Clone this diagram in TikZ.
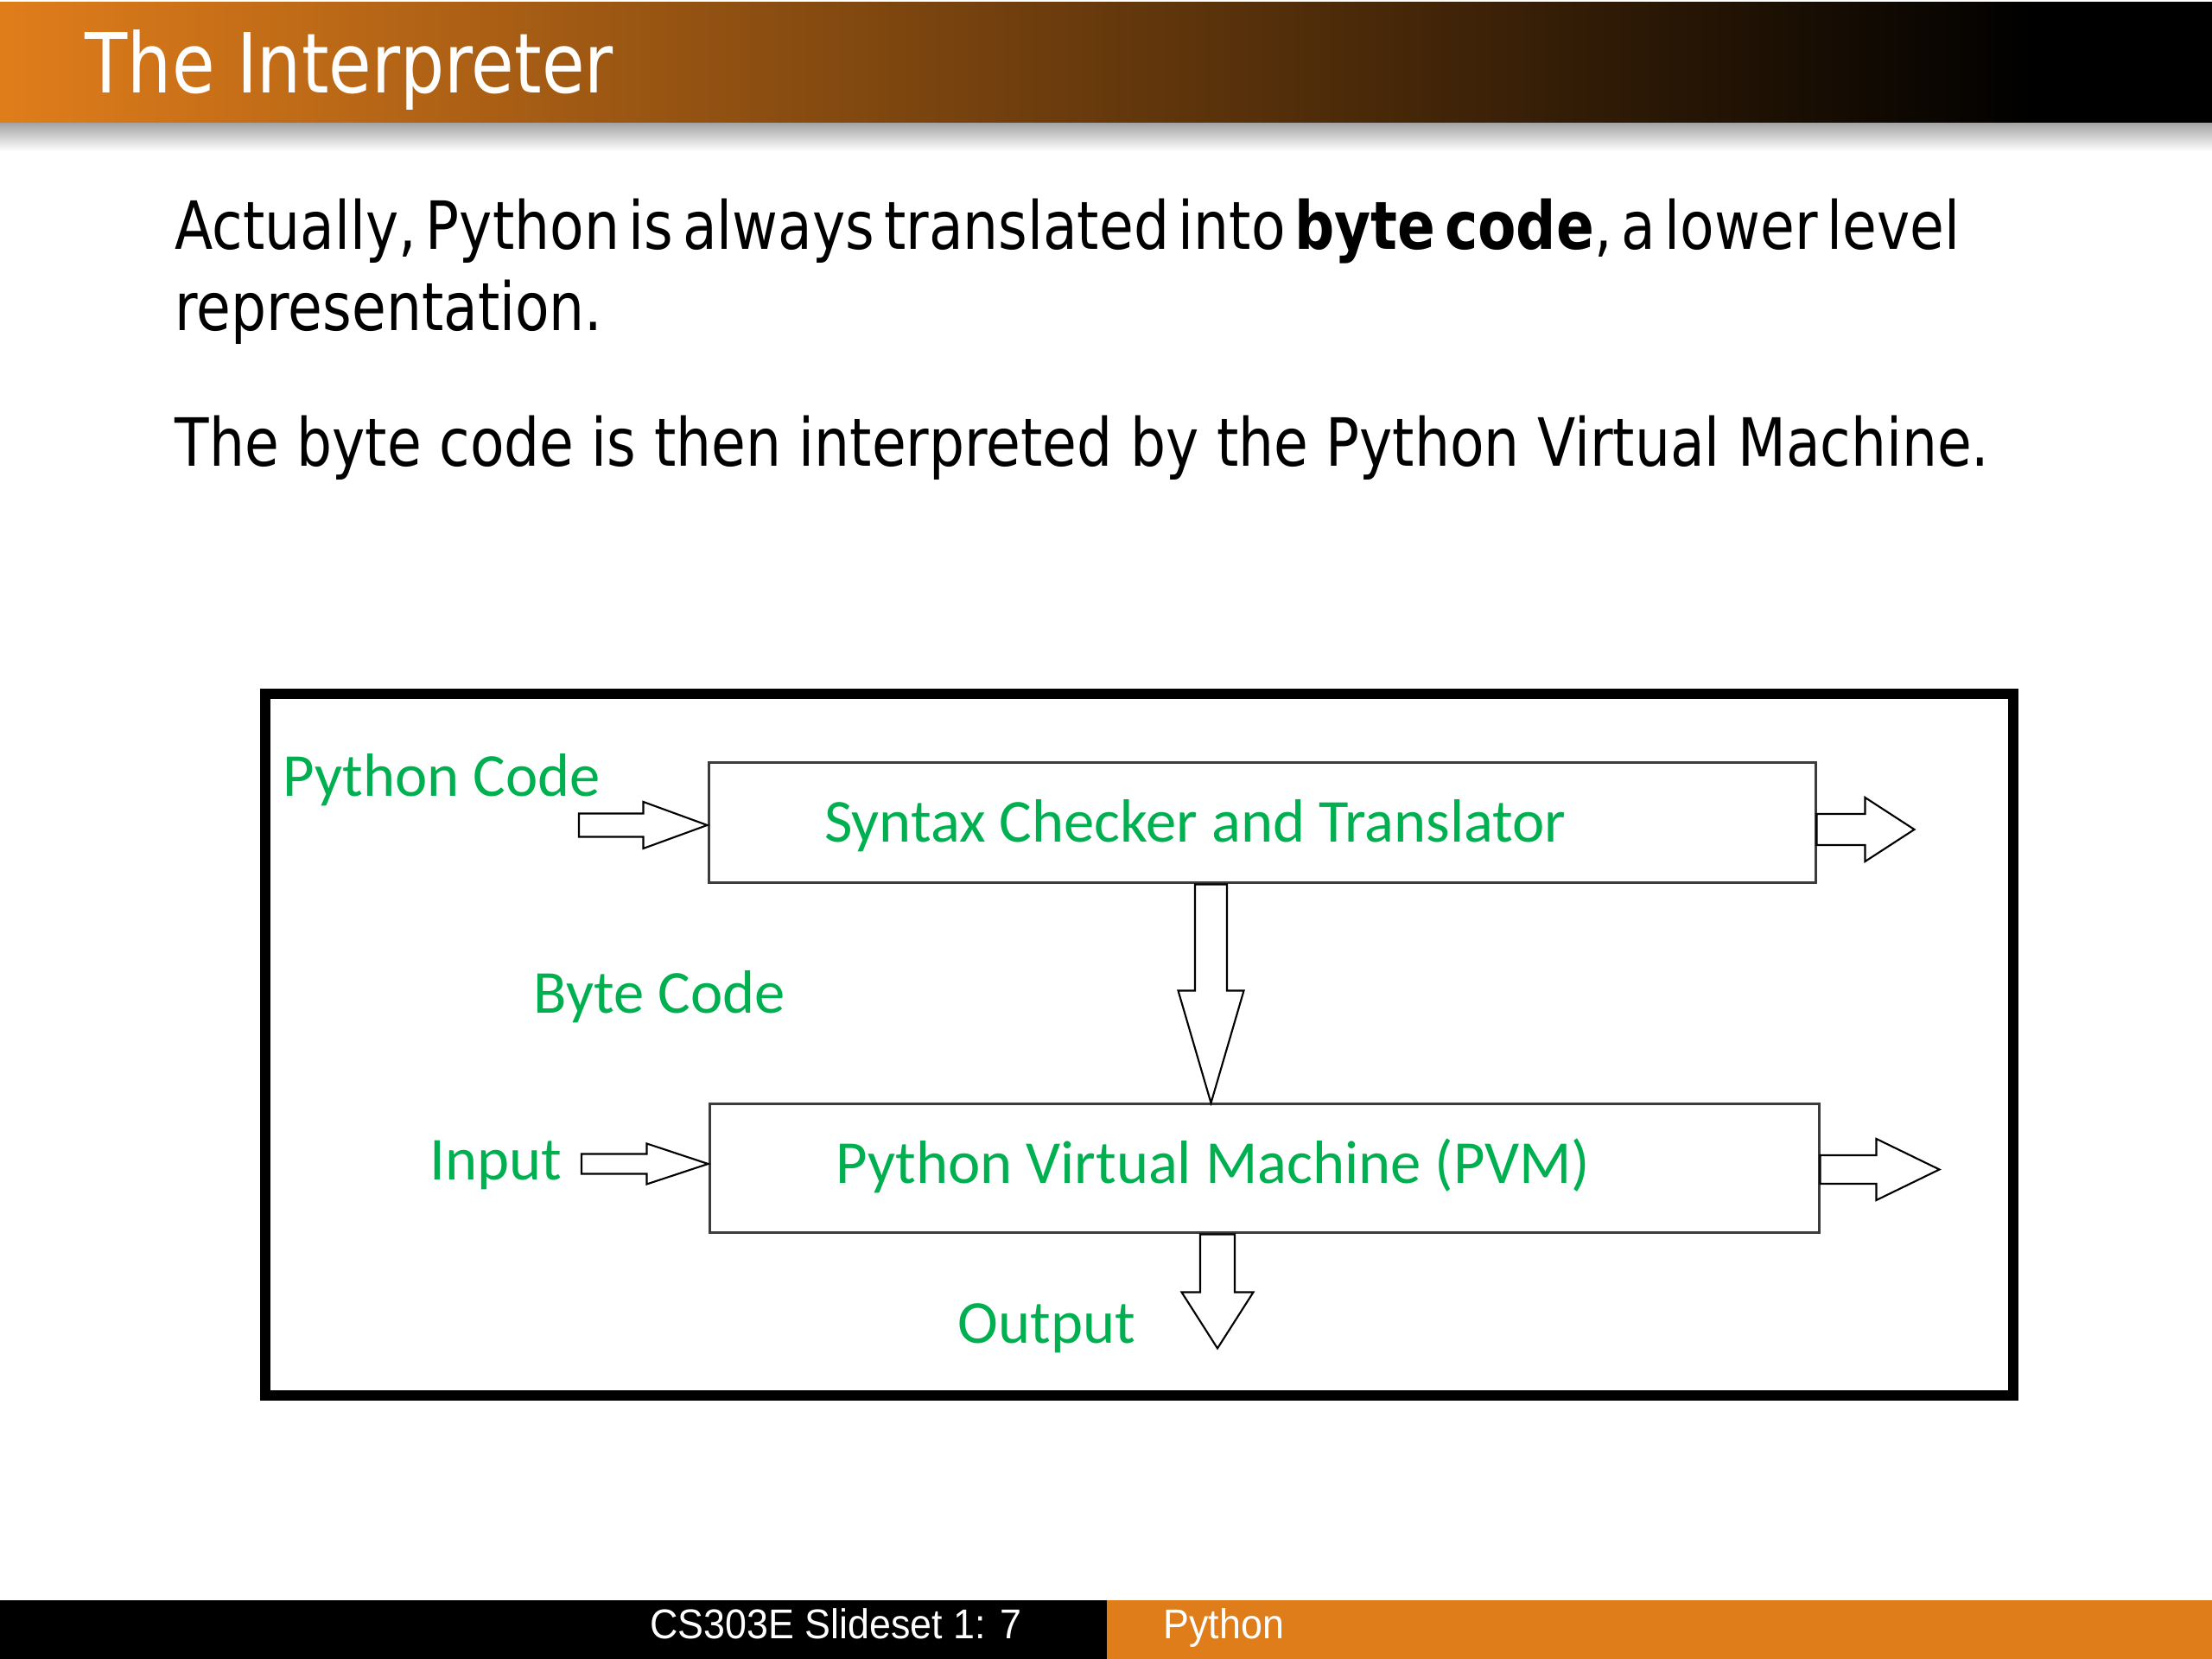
\documentclass[tikz,border=0pt]{standalone}
\usepackage{fontspec}
\usepackage{xcolor}
\usepackage{tikz}
\usetikzlibrary{positioning,calc}
\newfontfamily\slidefont[FakeStretch=0.84]{DejaVu Sans}
\newfontfamily\diagfont{Carlito}
\newfontfamily\footfont[FakeStretch=0.93]{Liberation Sans}
\definecolor{slideorange}{RGB}{224,125,27}
\definecolor{labelgreen}{RGB}{0,176,80}
\definecolor{boxgray}{RGB}{60,60,60}
\pgfdeclarehorizontalshading{titlebar}{100bp}{color(0bp)=(slideorange); color(25bp)=(slideorange); color(71bp)=(black); color(100bp)=(black)}
\newcommand{\fatarrow}[5]{\draw[fat] ($(#1)!#3!90:(#2)$) -- ($($(#2)!#5!(#1)$)!#3!90:(#2)$) -- ($($(#2)!#5!(#1)$)!#4!90:(#2)$) -- (#2) -- ($($(#2)!#5!(#1)$)!#4!-90:(#2)$) -- ($($(#2)!#5!(#1)$)!#3!-90:(#2)$) -- ($(#1)!#3!-90:(#2)$) -- cycle;}

\begin{document}
\begin{tikzpicture}[
	titletext/.style={text=white, inner sep=0pt, font=\slidefont\fontsize{27.3pt}{30pt}\selectfont},
	bodytext/.style={text=black, inner sep=0pt, font=\slidefont\fontsize{21.9pt}{26pt}\selectfont},
	foottext/.style={text=white, inner sep=0pt, font=\footfont\fontsize{13.7pt}{15pt}\selectfont},
	greenlabel/.style={text=labelgreen, inner sep=0pt, font=\diagfont\fontsize{20.1pt}{22pt}\selectfont},
	block/.style={draw=boxgray, line width=0.85pt, fill=white, inner sep=0pt},
	fat/.style={draw=black, line width=0.6pt, fill=white, line join=miter},
	frame/.style={draw=black, line width=0.12cm}]
	\useasboundingbox (0,0) rectangle (25.6,19.2);
	\fill[white] (0,0) rectangle (25.6,19.2);
	\shade[shading=titlebar] (0,17.77) rectangle (25.6,19.17);
	\shade[top color=black!35, bottom color=white] (0,17.45) rectangle (25.6,17.77);
	\fill[black] (0,0) rectangle (12.81,0.68);
	\fill[slideorange] (12.81,0) rectangle (25.6,0.68);
	\node[titletext, anchor=base west] (title) at (0.98,18.12) {The Interpreter};
	\node[bodytext, anchor=base west] (line1) at (2.02,16.31) {\spaceskip=0.14em Actually, Python is always translated into \textbf{byte code}, a lower level};
	\node[bodytext, anchor=base west] (line2) at ([yshift=-0.94cm]line1.base west) {representation.};
	\node[bodytext, anchor=base west] (line3) at (2.02,13.80) {The byte code is then interpreted by the Python Virtual Machine.};
	\node[foottext, anchor=base east] (slideno) at (11.83,0.23) {CS303E Slideset 1: 7};
	\node[foottext, anchor=base west] (topic) at (13.46,0.23) {Python};
	\draw[frame] (3.07,3.05) rectangle (23.30,11.17);
	\node[block, minimum width=12.81cm, minimum height=1.39cm] (sct) at (14.605,9.675) {};
	\node[block, minimum width=12.84cm, minimum height=1.49cm] (pvm) at (14.63,5.675) {};
	\node[greenlabel, anchor=base west] (scttext) at ([shift={(1.35,-0.225)}]sct.west) {Syntax Checker and Translator};
	\node[greenlabel, anchor=base west] (pvmtext) at ([shift={(1.47,-0.175)}]pvm.west) {Python Virtual Machine (PVM)};
	\node[greenlabel, anchor=base west] (pycode) at (3.27,9.98) {Python Code};
	\node[greenlabel, anchor=base west] (bytecode) at (6.17,7.47) {Byte Code};
	\node[greenlabel, anchor=base west] (input) at (4.97,5.54) {Input};
	\node[greenlabel, anchor=base west] (output) at (11.08,3.65) {Output};
	\coordinate (pcin) at (6.70,9.65);
	\coordinate (pctip) at (pcin -| sct.west);
	\coordinate (inin) at (6.73,5.73);
	\coordinate (intip) at (inin -| pvm.west);
	\coordinate (sctout) at ([yshift=-0.075cm]sct.east);
	\coordinate (scttip) at ([xshift=1.13cm]sctout);
	\coordinate (pvmout) at ([yshift=-0.01cm]pvm.east);
	\coordinate (pvmtip) at ([xshift=1.38cm]pvmout);
	\coordinate (bcin) at ([xshift=-0.59cm]sct.south);
	\coordinate (bctip) at (bcin |- pvm.north);
	\coordinate (outin) at ([xshift=-0.54cm]pvm.south);
	\coordinate (outtip) at ([yshift=-1.32cm]outin);
	\fatarrow{pcin}{pctip}{0.135cm}{0.27cm}{0.74cm}
	\fatarrow{inin}{intip}{0.115cm}{0.235cm}{0.71cm}
	\fatarrow{sctout}{scttip}{0.18cm}{0.37cm}{0.57cm}
	\fatarrow{pvmout}{pvmtip}{0.165cm}{0.355cm}{0.73cm}
	\fatarrow{bcin}{bctip}{0.185cm}{0.38cm}{1.30cm}
	\fatarrow{outin}{outtip}{0.20cm}{0.415cm}{0.65cm}
\end{tikzpicture}
\end{document}
